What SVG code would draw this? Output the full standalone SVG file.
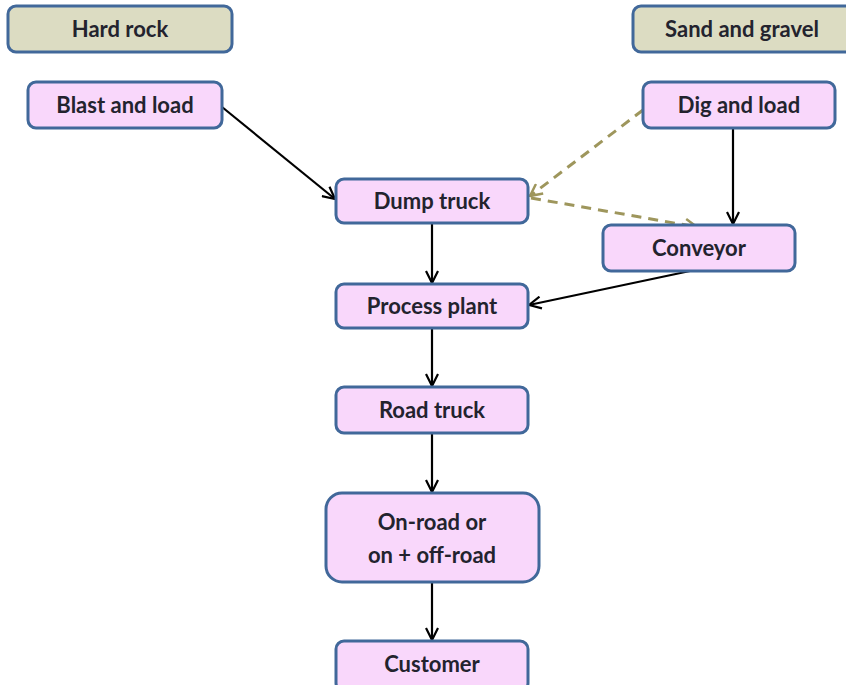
<svg xmlns="http://www.w3.org/2000/svg" width="846" height="685" viewBox="0 0 846 685">
<defs>
<style>
.n rect{fill:#f9d7fb;stroke:#41689a;stroke-width:3}
.h rect{fill:#dcdcc2;stroke:#41689a;stroke-width:3}
text{font-family:Lato,"Noto Sans",sans-serif;font-size:22px;font-weight:bold;fill:#23232e;text-anchor:middle}
.c{stroke:#000;stroke-width:2.2;fill:none}
.d{stroke:#9e965c;stroke-width:3;fill:none;stroke-dasharray:10 7}
</style>
<marker id="a" viewBox="0 0 14 14" refX="13" refY="7" markerWidth="14" markerHeight="14" markerUnits="userSpaceOnUse" orient="auto">
<path d="M1,1 L13,7 L1,13" fill="none" stroke="#000" stroke-width="2.2"/>
</marker>
<marker id="b" viewBox="0 0 14 14" refX="13" refY="7" markerWidth="14" markerHeight="14" markerUnits="userSpaceOnUse" orient="auto">
<path d="M1,1 L13,7 L1,13" fill="none" stroke="#9e965c" stroke-width="2.5"/>
</marker>
</defs>
<rect width="846" height="685" fill="#fff"/>
<g id="connectors">
<line class="c" x1="222" y1="107" x2="335" y2="199" marker-end="url(#a)"/>
<line class="c" x1="432" y1="223" x2="432" y2="283" marker-end="url(#a)"/>
<line class="c" x1="733" y1="128" x2="733" y2="224" marker-end="url(#a)"/>
<line class="c" x1="690" y1="271" x2="529" y2="305" marker-end="url(#a)"/>
<line class="c" x1="432" y1="328" x2="432" y2="386" marker-end="url(#a)"/>
<line class="c" x1="432" y1="433" x2="432" y2="492" marker-end="url(#a)"/>
<line class="c" x1="432" y1="582" x2="432" y2="640" marker-end="url(#a)"/>
<line class="d" x1="643" y1="110" x2="530" y2="196" marker-end="url(#b)"/>
<line class="d" x1="531" y1="198" x2="697" y2="227" marker-end="url(#b)"/>
</g>
<g id="hard-rock" class="h"><rect x="8" y="6" width="224" height="46" rx="8"/><text x="120" y="37">Hard rock</text></g>
<g id="sand-gravel" class="h"><rect x="633" y="6" width="225" height="46" rx="8"/><text x="742" y="37">Sand and gravel</text></g>
<g id="blast" class="n"><rect x="28" y="82" width="194" height="46" rx="8"/><text x="125" y="113">Blast and load</text></g>
<g id="dig" class="n"><rect x="643" y="82" width="192" height="46" rx="8"/><text x="739" y="113">Dig and load</text></g>
<g id="dump" class="n"><rect x="336" y="179" width="192" height="44" rx="8"/><text x="432" y="209">Dump truck</text></g>
<g id="conveyor" class="n"><rect x="603" y="225" width="192" height="46" rx="8"/><text x="699" y="256">Conveyor</text></g>
<g id="process" class="n"><rect x="336" y="284" width="192" height="44" rx="8"/><text x="432" y="314">Process plant</text></g>
<g id="road" class="n"><rect x="336" y="387" width="192" height="46" rx="8"/><text x="432" y="418">Road truck</text></g>
<g id="onroad" class="n"><rect x="326" y="493" width="213" height="89" rx="16"/><text x="432" y="530">On-road or</text><text x="432" y="563">on + off-road</text></g>
<g id="customer" class="n"><rect x="336" y="641" width="192" height="50" rx="8"/><text x="432" y="672">Customer</text></g>
</svg>
